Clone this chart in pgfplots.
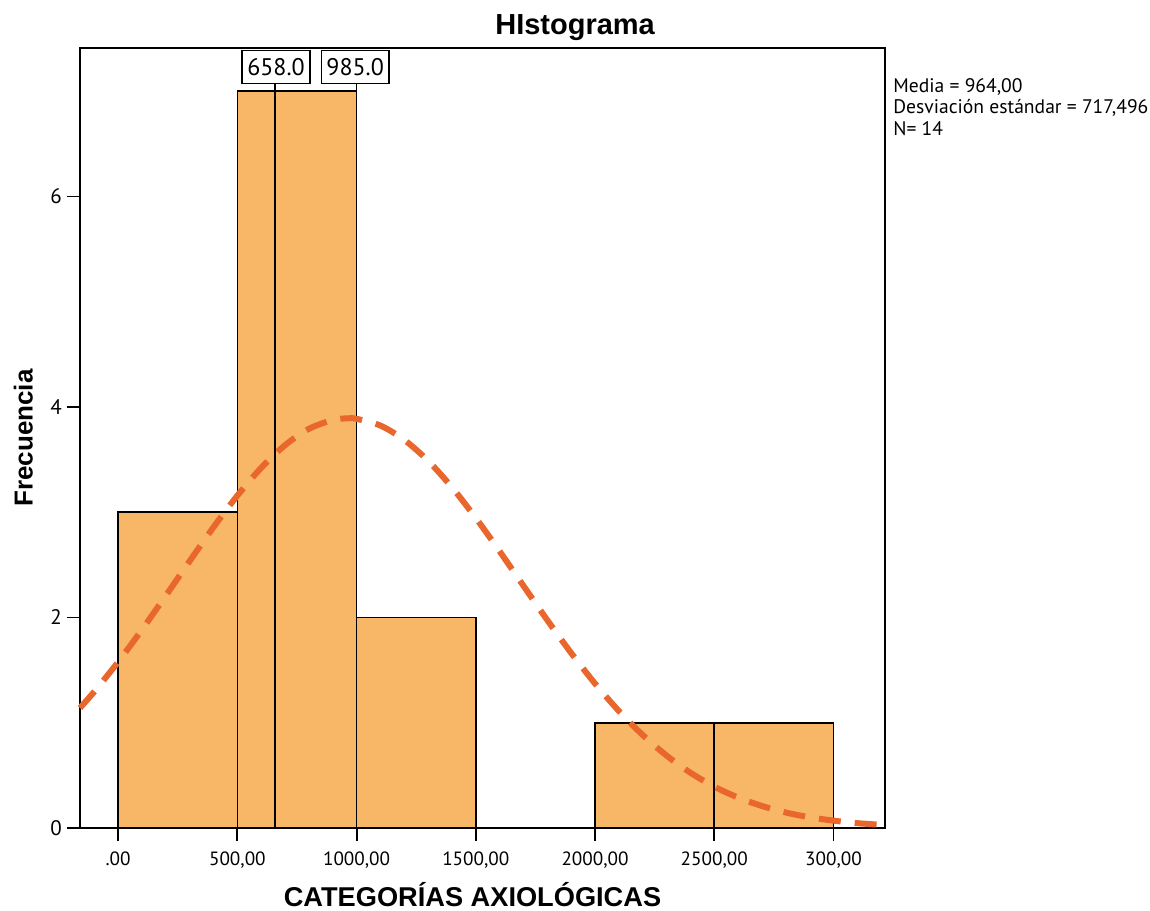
\documentclass[border=0pt]{standalone}
\usepackage{pgfplots}
\pgfplotsset{compat=1.18}
\usepackage{fontspec}
\setmainfont{Liberation Sans}
\newfontfamily\ptsans{PT Sans}
\definecolor{barfill}{HTML}{F8B766}
\definecolor{curvecol}{HTML}{E9672D}
\begin{document}
\begin{tikzpicture}
\begin{axis}[
  at={(0,0)}, anchor=south west,
  scale only axis, width=402.5pt, height=390pt,
  xmin=-160, xmax=3216, ymin=0, ymax=7.41,
  axis line style={line width=0.9pt},
  xtick={0,500,1000,1500,2000,2500,3000},
  xticklabels={.00,{500,00},{1000,00},{1500,00},{2000,00},{2500,00},{300,00}},
  ytick={0,2,4,6},
  tick align=outside, major tick length=6.5pt,
  tick style={line width=0.9pt, black},
  xtick pos=bottom, ytick pos=left,
  ticklabel style={font=\ptsans\fontsize{9.6}{12}\selectfont},
  yticklabel style={font=\ptsans\fontsize{10.5}{12}\selectfont, xshift=1pt},
  /pgf/number format/assume math mode=true,
  xticklabel style={yshift=-2pt},
  xlabel={\bfseries CATEGORÍAS AXIOLÓGICAS},
  xlabel style={font=\fontsize{13.6}{15}\selectfont, xshift=-5pt},
  ylabel={\bfseries Frecuencia},
  ylabel style={font=\fontsize{13}{15}\selectfont, yshift=2pt},
  clip=false,
]
% bars
\addplot[fill=barfill, draw=black, line width=0.8pt] coordinates {(0,0) (0,3) (500,3) (500,0)} -- cycle;
\addplot[fill=barfill, draw=black, line width=0.8pt] coordinates {(500,0) (500,7) (1000,7) (1000,0)} -- cycle;
\addplot[fill=barfill, draw=black, line width=0.8pt] coordinates {(1000,0) (1000,2) (1500,2) (1500,0)} -- cycle;
\addplot[fill=barfill, draw=black, line width=0.8pt] coordinates {(2000,0) (2000,1) (2500,1) (2500,0)} -- cycle;
\addplot[fill=barfill, draw=black, line width=0.8pt] coordinates {(2500,0) (2500,1) (3000,1) (3000,0)} -- cycle;
% reference lines
\addplot[black, line width=0.8pt] coordinates {(658,0) (658,7.1)};
\addplot[black, line width=0.8pt] coordinates {(1000,7) (1000,7.1)};
% normal curve
\addplot[curvecol, line width=3pt, dash pattern=on 11pt off 7pt, smooth] coordinates {
(-160,1.141) (-100,1.296) (0,1.578) (100,1.885) (200,2.208) (300,2.536) (400,2.858)
(500,3.158) (600,3.422) (700,3.637) (800,3.792) (900,3.876) (964,3.892) (1000,3.887)
(1100,3.823) (1200,3.687) (1300,3.488) (1400,3.236) (1500,2.945) (1600,2.628)
(1700,2.300) (1800,1.974) (1900,1.662) (2000,1.372) (2100,1.111) (2200,0.883)
(2300,0.688) (2400,0.525) (2500,0.393) (2600,0.289) (2700,0.209) (2800,0.147)
(2900,0.102) (3000,0.070) (3100,0.046) (3216,0.028)};
% labels
\node[draw=black, line width=0.8pt, fill=white, inner xsep=2.5pt, inner ysep=1pt, minimum height=16.5pt,
      font=\ptsans\fontsize{12}{13}\selectfont] at (axis cs:662,7.23) {658.0};
\node[draw=black, line width=0.8pt, fill=white, inner xsep=2.5pt, inner ysep=1pt, minimum height=16.5pt,
      font=\ptsans\fontsize{12}{13}\selectfont] at (axis cs:994,7.23) {985.0};
\node[anchor=north west, align=left, font=\ptsans\fontsize{9.8}{10.8}\selectfont, inner sep=0pt]
  at ([xshift=4pt, yshift=-15pt]rel axis cs:1,1)
  {Media = 964,00\\Desviación estándar = 717,496\\N= 14};
\node[font=\bfseries\fontsize{14.5}{16}\selectfont] at ([yshift=10pt]rel axis cs:0.615,1) {HIstograma};
\end{axis}
\pgfresetboundingbox
\path (-40pt,-41pt) rectangle (535pt,414pt);
\end{tikzpicture}
\end{document}
